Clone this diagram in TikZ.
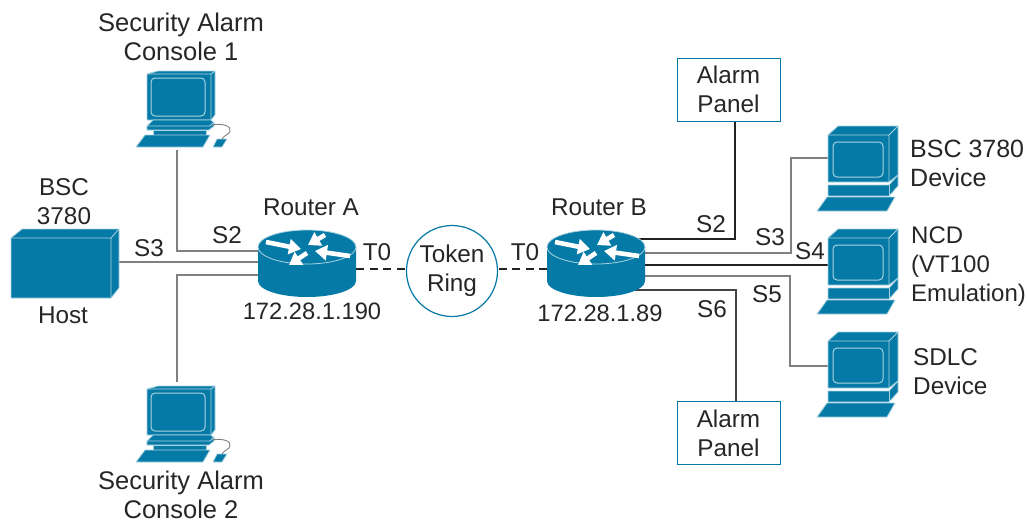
\documentclass[tikz,border=0pt]{standalone}
\usepackage{fontspec}
\setmainfont{Liberation Sans}
\usetikzlibrary{arrows.meta}
\definecolor{cisco}{HTML}{067AA6}
\definecolor{edgeb}{HTML}{A9D3E2}
\definecolor{wireg}{HTML}{808080}
\definecolor{wirek}{HTML}{222222}
\definecolor{wirem}{HTML}{444444}
\tikzset{
  x=1pt,y=-1pt,
  lbl/.style={font=\fontsize{24.3}{29}\selectfont,text=black!85,align=center,inner sep=0pt},
  lblw/.style={lbl,align=left,anchor=west},
  anchorbox/.style={inner sep=0pt,outer sep=0pt,minimum width=#1},
  panel/.style={draw=cisco,line width=1pt,fill=white,align=center,inner sep=0pt,minimum width=103pt,minimum height=63pt,font=\fontsize{24.3}{29}\selectfont,text=black!85},
  ring/.style={draw=cisco,line width=1.2pt,fill=white,circle,align=center,inner sep=0pt,minimum size=91pt,font=\fontsize{24.3}{29}\selectfont,text=black!85},
  wg/.style={draw=wireg,line width=1.5pt},
  wk/.style={draw=wirek,line width=1.3pt},
  wm/.style={draw=wirem,line width=1.4pt},
  wd/.style={draw=wirek,line width=1.1pt,dash pattern=on 8pt off 5.5pt},
  ico/.style={fill=cisco,draw=edgeb,line width=.8pt,line join=round},
  pics/computer/.style={code={
    \draw[ico] (147,74) -- (158,71) -- (215,71) -- (215,115) -- (211,120) -- (147,120) -- cycle;
    \draw[edgeb,line width=.8pt] (147,74) -- (211,74) -- (215,71) (211,74) -- (211,120);
    \draw[edgeb,line width=1pt,rounded corners=4pt] (151,78) rectangle (205,116);
    \draw[ico] (153,120) -- (211,120) -- (214,123) -- (211,127) -- (147,129) -- (147,126) -- cycle;
    \draw[ico] (147,126) -- (210,126) -- (214,122) -- (214,126) -- (209,130) -- (147,130) -- cycle;
    \draw[ico] (153,130) -- (206,130) -- (206,135) -- (153,135) -- cycle;
    \draw[ico] (145,135) -- (210,135) -- (203,147) -- (136,147) -- cycle;
    \draw[ico] (217,139) -- (227,139) -- (222,147) -- (213,147) -- cycle;
    \draw[wireg,line width=.9pt] (212,125) .. controls (222,123) and (232,126) .. (230,131) .. controls (229,135) and (225,134) .. (222,139);
  }},
  pics/computerb/.style={code={
    \draw[ico] (828,135) -- (838,126) -- (898,126) -- (898,175) -- (889,182) -- (828,182) -- cycle;
    \draw[edgeb,line width=.8pt] (828,135) -- (889,135) -- (898,126) (889,135) -- (889,182);
    \draw[edgeb,line width=1pt,rounded corners=4pt] (833,142) rectangle (883,177);
    \draw[ico] (828,185) -- (889,185) -- (898,175) -- (898,186) -- (889,196) -- (828,196) -- cycle;
    \draw[edgeb,line width=.8pt] (889,185) -- (889,196);
    \draw[ico] (827,197) -- (895,197) -- (887,211) -- (817,211) -- cycle;
  }},
  pics/routerico/.style={code={
    \fill[cisco] (-49,0) -- (-49,34) arc[start angle=180,end angle=0,x radius=49,y radius=16] -- (49,0) -- cycle;
    \draw[ico] (0,0) ellipse[x radius=49,y radius=17];
    \foreach \xa/\ya/\xb/\yb in {-41/-5/-6/2, 18/-12/1/-2, 43/9/8/4, 0/6/-18/18}
      \draw[white,line width=4.6pt,-{Triangle[length=12pt,width=15pt]}] (\xa,\ya) -- (\xb,\yb);
  }}
}
\begin{document}
\begin{tikzpicture}
\useasboundingbox (0,0) rectangle (1027,520);
% anchor nodes for the devices
\node[anchorbox=82pt,minimum height=80pt] (pca) at (177,110) {};
\node[anchorbox=82pt,minimum height=80pt] (pcb) at (177,422) {};
\node[anchorbox=80pt,minimum height=80pt] (pcc) at (868,167) {};
\node[anchorbox=80pt,minimum height=80pt] (pcd) at (868,269) {};
\node[anchorbox=80pt,minimum height=80pt] (pce) at (868,372) {};
\node[anchorbox=98pt,minimum height=66pt] (ra) at (307,263) {};
\node[anchorbox=98pt,minimum height=66pt] (rb) at (596,263) {};
\node[anchorbox=108pt,minimum height=69pt] (host) at (65,263.5) {};
\node[panel] (pa) at (728.5,89.5) {Alarm\\Panel};
\node[panel] (pb) at (728.5,433) {Alarm\\Panel};
\node[ring] (tr) at (452,271) {Token\\Ring};
% connectors
\draw[wg] (pca.south) |- (ra.center |- 0,251);
\draw[wg] (pcb.north) |- (ra.center |- 0,275);
\draw[wg] (host.east |- 0,262) -- (ra.center |- 0,262);
\draw[wd] (ra.east |- 0,269) -- (tr.west |- 0,269);
\draw[wd] (rb.west |- 0,269) -- (tr.east |- 0,269);
\draw[wk] (pa.south -| 735,0) |- (rb.center |- 0,239);
\draw[wg] (pcc.west |- 0,158) -| (791,253) -- (rb.center |- 0,253);
\draw[wk] (pcd.west |- 0,265) -- (rb.center |- 0,265);
\draw[wg] (pce.west |- 0,366) -| (790,276) -- (rb.center |- 0,276);
\draw[wm] (pb.north -| 736,0) |- (rb.center |- 0,290);
% icons
\pic at (0,0) {computer};
\pic at (0,315) {computer};
\pic at (0,0) {computerb};
\pic at (0,103) {computerb};
\pic at (0,206) {computerb};
\pic at (307,247) {routerico};
\pic at (596,247) {routerico};
\draw[ico] (11,238) -- (22,229) -- (119,229) -- (119,288) -- (111,298) -- (11,298) -- cycle;
\draw[edgeb,line width=.8pt] (11,238) -- (111,238) -- (119,229) (111,238) -- (111,298);
% labels
\node[lbl,font=\fontsize{25.5}{29}\selectfont] (t1) at (181,37) {Security Alarm\\Console 1};
\node[lbl,font=\fontsize{25.5}{29}\selectfont] (t2) at (181,495) {Security Alarm\\Console 2};
\node[lbl] (t3) at (64,202) {BSC\\3780};
\node[lbl] (t4) at (63,315) {Host};
\node[lbl] (t5) at (311,207) {Router A};
\node[lbl] (t6) at (599,207) {Router B};
\node[lbl,font=\fontsize{23.7}{29}\selectfont] (t7) at (312,311) {172.28.1.190};
\node[lbl,font=\fontsize{23.7}{29}\selectfont] (t8) at (600,313) {172.28.1.89};
\node[lbl] (t9) at (149,248) {S3};
\node[lbl] (t10) at (227,235) {S2};
\node[lbl] (t11) at (377,252) {T0};
\node[lbl] (t12) at (525,252) {T0};
\node[lbl] (t13) at (711,224) {S2};
\node[lbl] (t14) at (770,237) {S3};
\node[lbl] (t15) at (810,251) {S4};
\node[lbl] (t16) at (767,294) {S5};
\node[lbl] (t17) at (712,309) {S6};
\node[lblw,font=\fontsize{25}{29}\selectfont] (t18) at (910,163) {BSC 3780\\Device};
\node[lblw,font=\fontsize{24}{29}\selectfont] (t19) at (911,267) {NCD\\(VT100\\Emulation)};
\node[lblw] (t20) at (913,372) {SDLC\\Device};
\end{tikzpicture}
\end{document}
